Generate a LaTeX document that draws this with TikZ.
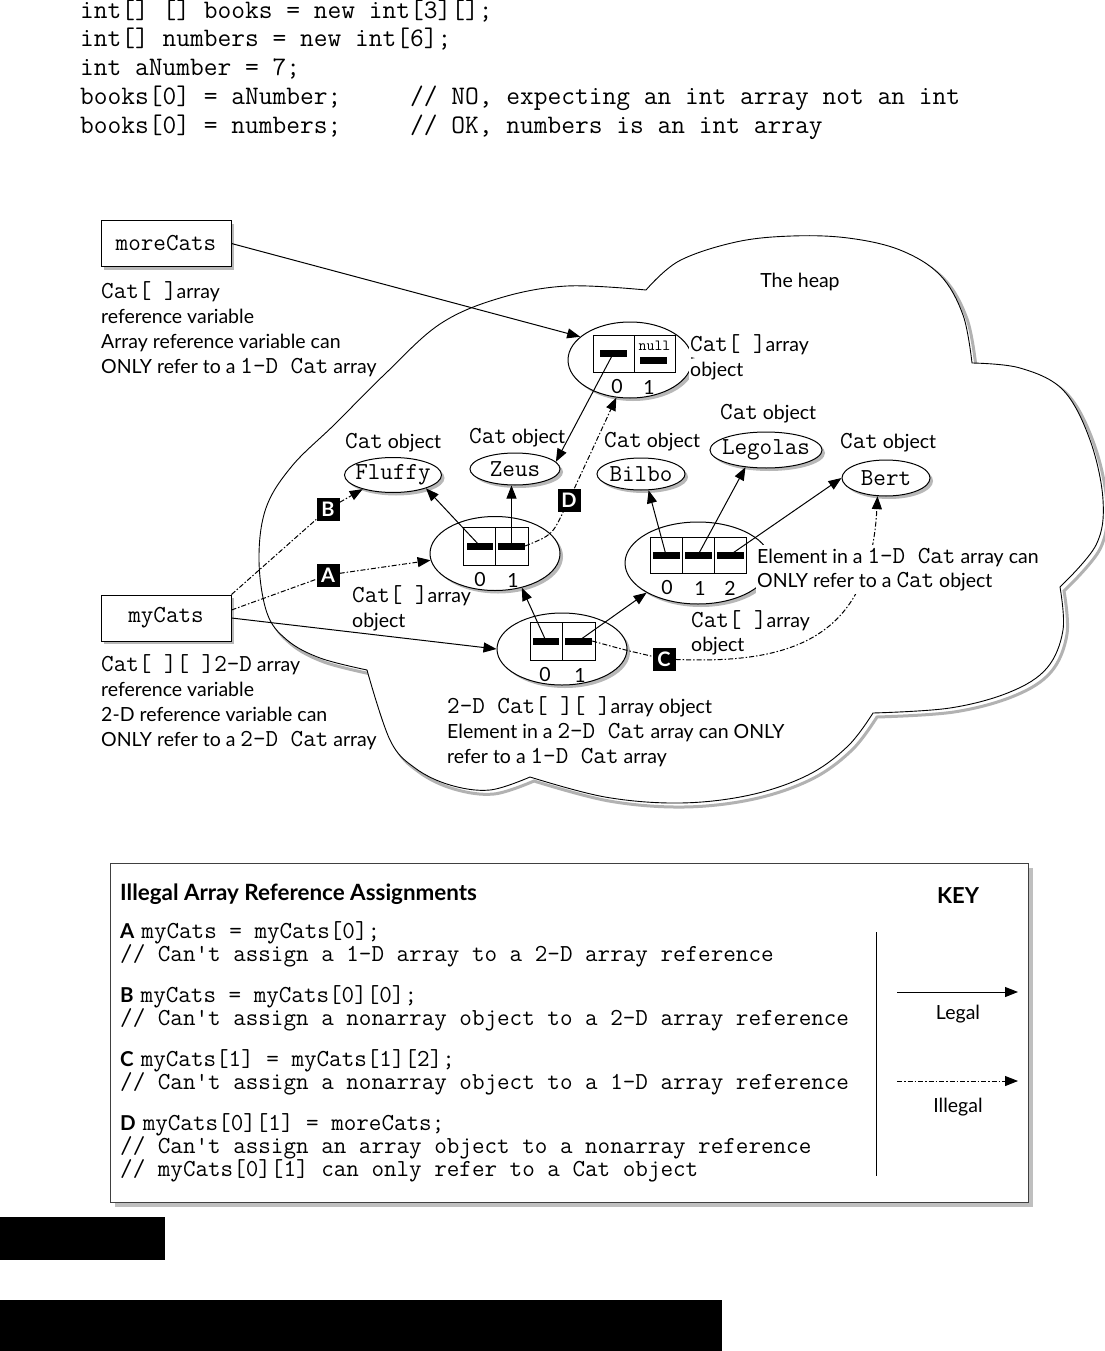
\documentclass[tikz,border=0pt]{standalone}
\usepackage{fontspec}
\setmainfont{Lato}
\usetikzlibrary{arrows.meta,shapes.geometric,shadows}
\pgfdeclarelayer{fg}
\pgfsetlayers{main,fg}
\newcommand\monot[1]{{\fontsize{24.4}{28}\selectfont\ttfamily #1}}
\newcommand\cloudshape[1]{\path[#1]
 plot[smooth,tension=0.6] coordinates {(646,290) (679,261) (736,242) (792,236) (848,238) (900,250) (940,275) (963,315) (972,363)}
 -- plot[smooth,tension=0.6] coordinates {(972,363) (1020,368) (1063,390) (1090,440) (1103,500) (1096,545) (1060,587)}
 -- plot[smooth,tension=0.6] coordinates {(1060,587) (1063,630) (1047,668) (1010,692) (950,708) (873,713)}
 -- plot[smooth,tension=0.6] coordinates {(873,713) (848,746) (808,775) (750,795) (680,803) (605,797) (530,777)}
 -- plot[smooth,tension=0.6] coordinates {(530,777) (490,790) (450,785) (415,768) (390,740) (367,670)}
 -- plot[smooth,tension=0.6] coordinates {(367,670) (320,658) (287,640) (267,613) (259,560) (266,508) (292,466) (335,424) (385,374) (440,324) (500,298) (567,286) (646,290)}
 -- cycle;}
\begin{document}
\begin{tikzpicture}[x=1pt,y=-1pt,
  shad/.style={drop shadow={shadow xshift=3pt,shadow yshift=-3pt,fill=black!28,opacity=1}},
  txt/.style={anchor=base west,inner sep=0pt,font=\fontsize{19.5}{23}\selectfont},
  wtxt/.style={txt,fill=white,inner xsep=1pt,inner ysep=3pt},
  code/.style={anchor=base west,inner sep=0pt,font=\fontsize{26.7}{30}\selectfont\ttfamily},
  kcode/.style={anchor=base west,inner sep=0pt,font=\fontsize{24.4}{28}\selectfont\ttfamily},
  varbox/.style={draw,line width=1pt,fill=white,minimum width=130pt,minimum height=46pt,inner sep=0pt,font=\fontsize{24.4}{28}\selectfont\ttfamily,shad},
  catobj/.style={ellipse,draw,line width=1pt,fill=white,inner sep=0pt,font=\fontsize{24.4}{28}\selectfont\ttfamily,shad},
  arrobj/.style={ellipse,draw,line width=1pt,fill=white,inner sep=0pt,shad},
  cell/.style={draw,line width=0.9pt,minimum height=38pt,inner sep=0pt},
  barr/.style={fill=black,minimum height=7pt,inner sep=0pt},
  idx/.style={inner sep=0pt,font=\fontsize{19.5}{23}\selectfont},
  blk/.style={fill=black,text=white,minimum size=23pt,inner sep=0pt,font=\bfseries\fontsize{20}{20}\selectfont},
  legal/.style={line width=1pt,-{Triangle[length=13pt,width=10pt]}},
  illegal/.style={line width=1pt,dash pattern=on 5pt off 2pt on 1.5pt off 2pt,-{Triangle[length=13pt,width=10pt]}}
]
\useasboundingbox (0,0) rectangle (1104,1351);
\fill[white] (0,0) rectangle (1104,1351);

% top code
\node[code] (c1) at (80,19) {int[]~[]~books~=~new~int[3][];};
\node[code] (c2) at (80,47) {int[]~numbers~=~new~int[6];};
\node[code] (c3) at (80,76) {int~aNumber~=~7;};
\node[code] (c4) at (80,105) {books[0]~=~aNumber;~~~~~//~NO,~expecting~an~int~array~not~an~int};
\node[code] (c5) at (80,134) {books[0]~=~numbers;~~~~~//~OK,~numbers~is~an~int~array};

% cloud
\begin{scope}[shift={(4,4)}]
\cloudshape{draw=black!30,line width=3pt}
\end{scope}
\cloudshape{draw=black,fill=white,line width=0.9pt}

% variable boxes and their labels
\node[varbox] (morecats) at (166,243.5) {moreCats};
\node[varbox] (mycats) at (166,618) {myCats};
\node[txt] (m1) at (101,298) {\monot{Cat[ ]}array};
\node[txt] (m2) at (101,323) {reference variable};
\node[txt] (m3) at (101,348) {Array reference variable can};
\node[txt] (m4) at (101,373) {ONLY refer to a \monot{1-D Cat} array};
\node[txt] (y1) at (101,671) {\monot{Cat[ ][ ]2-D} array};
\node[txt] (y2) at (101,696) {reference variable};
\node[txt] (y3) at (101,721) {2-D reference variable can};
\node[txt] (y4) at (101,746) {ONLY refer to a \monot{2-D Cat} array};

\node[txt,anchor=base] (heap) at (800,287) {The heap};

% Cat objects
\node[catobj,minimum width=97pt,minimum height=35pt] (fluffy) at (393,475) {\makebox[0pt]{Fluffy}};
\node[catobj,minimum width=90pt,minimum height=32pt] (zeus) at (515,469) {\makebox[0pt]{Zeus}};
\node[catobj,minimum width=88pt,minimum height=32pt] (bilbo) at (641,474) {\makebox[0pt]{Bilbo}};
\node[catobj,minimum width=112pt,minimum height=36pt] (legolas) at (766,450) {\makebox[0pt]{Legolas}};
\node[catobj,minimum width=88pt,minimum height=36pt] (bert) at (886,478) {\makebox[0pt]{Bert}};
\node[txt] (lf) at (345,448) {\monot{Cat} object};
\node[txt] (lz) at (469,443) {\monot{Cat} object};
\node[txt] (lb) at (604,447) {\monot{Cat} object};
\node[txt] (ll) at (720,419) {\monot{Cat} object};
\node[txt] (lr) at (840,448) {\monot{Cat} object};

% top array (moreCats)
\node[arrobj,minimum width=124pt,minimum height=76pt] (toparr) at (630,360) {};
\node[cell,minimum width=41pt,minimum height=37pt] (tc1) at (613.5,353.5) {};
\node[cell,minimum width=41pt,minimum height=37pt] (tc2) at (654.5,353.5) {};
\node[barr,minimum width=27pt] (tbar1) at (613.5,353) {};
\node[barr,minimum width=27pt] (tbar2) at (653.5,360) {};
\node[inner sep=0pt,font=\fontsize{15.5}{16}\selectfont\ttfamily] (tnull) at (654.5,346) {null};
\node[idx] (ti0) at (617,387) {0};
\node[idx] (ti1) at (649,387) {1};

% left array
\node[arrobj,minimum width=130pt,minimum height=74pt] (leftarr) at (495,553.5) {};
\node[cell,minimum width=32.5pt] (lc1) at (479.5,546) {};
\node[cell,minimum width=32.5pt] (lc2) at (512,546) {};
\node[barr,minimum width=26pt] (lbar1) at (480,546) {};
\node[barr,minimum width=27pt] (lbar2) at (511.5,546) {};
\node[idx] (li0) at (480,580) {0};
\node[idx] (li1) at (513,580) {1};
\node[txt] (la1) at (352,602) {\monot{Cat[ ]}array};
\node[txt] (la2) at (352,627) {object};

% right array
\node[arrobj,minimum width=146pt,minimum height=82pt] (rightarr) at (698,563) {};
\node[cell,minimum width=32pt,minimum height=36pt] (rc1) at (666,555) {};
\node[cell,minimum width=32pt,minimum height=36pt] (rc2) at (698,555) {};
\node[cell,minimum width=32pt,minimum height=36pt] (rc3) at (730,555) {};
\node[barr,minimum width=27pt] (rbar1) at (666,555) {};
\node[barr,minimum width=27pt] (rbar2) at (698,555) {};
\node[barr,minimum width=27pt] (rbar3) at (730,555) {};
\node[idx] (ri0) at (667,588) {0};
\node[idx] (ri1) at (700,588) {1};
\node[idx] (ri2) at (730,588) {2};
\node[txt] (ra1) at (691,627) {\monot{Cat[ ]}array};
\node[txt] (ra2) at (691,651) {object};

% bottom 2-D array
\node[arrobj,minimum width=130pt,minimum height=72pt] (botarr) at (562,649) {};
\node[cell,minimum width=32.5pt] (bc1) at (546.5,641) {};
\node[cell,minimum width=32.5pt] (bc2) at (579,641) {};
\node[barr,minimum width=26pt] (bbar1) at (546,641) {};
\node[barr,minimum width=27pt] (bbar2) at (578.5,641) {};
\node[idx] (bi0) at (545,675) {0};
\node[idx] (bi1) at (580,675) {1};
\node[txt] (d1) at (447,713) {\monot{2-D Cat[ ][ ]}array object};
\node[txt] (d2) at (447,738) {Element in a \monot{2-D Cat} array can ONLY};
\node[txt] (d3) at (447,763) {refer to a \monot{1-D Cat} array};

% labels on the foreground layer
\begin{pgfonlayer}{fg}
\node[wtxt] (ta1) at (689,351) {\monot{Cat[ ]}array};
\node[wtxt] (ta2) at (689,376) {object};
\node[wtxt] (e1) at (756,563) {Element in a \monot{1-D Cat} array can};
\node[wtxt] (e2) at (756,587) {ONLY refer to a \monot{Cat} object};
\node[blk] (lA) at (328,575) {A};
\node[blk] (lB) at (328,509) {B};
\node[blk] (lC) at (664,659) {C};
\node[blk] (lD) at (569,500) {D};
\end{pgfonlayer}

% legal references
\draw[legal] (morecats.east) -- (toparr.155);
\draw[legal] (mycats.east) -- (botarr.west);
\draw[legal] (tbar1.center) -- (zeus.10);
\draw[legal] (lbar1.center) -- (fluffy.-22);
\draw[legal] (lbar2.center) -- (lbar2.center |- zeus.south);
\draw[legal] (rbar1.center) -- (bilbo.-65);
\draw[legal] (rbar2.center) -- (legolas.-140);
\draw[legal] (rbar3.center) -- (bert.west);
\draw[legal] (bbar1.center) -- (leftarr.-52);
\draw[legal] (bbar2.center) -- (rightarr.-150);

% illegal references
\draw[illegal] (mycats.north east) -- (lB) -- (fluffy.-155);
\draw[illegal] ([yshift=8pt]mycats.east) -- (lA) -- (leftarr.186);
\draw[illegal] (lbar2.east) .. controls (552,535) .. (lD) -- (toparr.-110);
\draw[illegal] (bbar2.east) .. controls (625,650) .. (lC) .. controls (790,664) and (870,640) .. (bert.-115);

% key box
\node[draw=black!75,line width=1pt,fill=white,minimum width=918pt,minimum height=339pt,inner sep=0pt,
  drop shadow={shadow xshift=5pt,shadow yshift=-5pt,fill=black!25,opacity=1}] (keybox) at (569,1032.5) {};
\node[txt,font=\bfseries\fontsize{22.4}{26}\selectfont] (ktitle) at (120,900) {Illegal Array Reference Assignments};
\node[txt,anchor=base,font=\bfseries\fontsize{22}{26}\selectfont] (kkey) at (958,903) {KEY};
\node[kcode] (ka1) at (120,938) {{\rmfamily\bfseries\fontsize{20.5}{24}\selectfont A}\hspace{7pt}myCats~=~myCats[0];};
\node[kcode] (ka2) at (120,961) {//~Can't~assign~a~1-D~array~to~a~2-D~array~reference};
\node[kcode] (kb1) at (120,1002) {{\rmfamily\bfseries\fontsize{20.5}{24}\selectfont B}\hspace{7pt}myCats~=~myCats[0][0];};
\node[kcode] (kb2) at (120,1025) {//~Can't~assign~a~nonarray~object~to~a~2-D~array~reference};
\node[kcode] (kc1) at (120,1066) {{\rmfamily\bfseries\fontsize{20.5}{24}\selectfont C}\hspace{7pt}myCats[1]~=~myCats[1][2];};
\node[kcode] (kc2) at (120,1089) {//~Can't~assign~a~nonarray~object~to~a~1-D~array~reference};
\node[kcode] (kd1) at (120,1130) {{\rmfamily\bfseries\fontsize{20.5}{24}\selectfont D}\hspace{7pt}myCats[0][1]~=~moreCats;};
\node[kcode] (kd2) at (120,1153) {//~Can't~assign~an~array~object~to~a~nonarray~reference};
\node[kcode] (kd3) at (120,1176) {//~myCats[0][1]~can~only~refer~to~a~Cat~object};
\draw[line width=1pt] (876,932) -- (876,1176);
\coordinate (kl1) at (897,992);
\coordinate (kl2) at (1018,992);
\draw[legal] (kl1) -- (kl2);
\node[txt,anchor=base] (klegal) at (958,1019) {Legal};
\coordinate (ki1) at (897,1081);
\coordinate (ki2) at (1018,1081);
\draw[illegal] (ki1) -- (ki2);
\node[txt,anchor=base] (killegal) at (958,1112) {Illegal};

% black bars at the bottom
\fill[black] (0,1217) rectangle (165,1260);
\fill[black] (0,1300) rectangle (722,1351);
\end{tikzpicture}
\end{document}
